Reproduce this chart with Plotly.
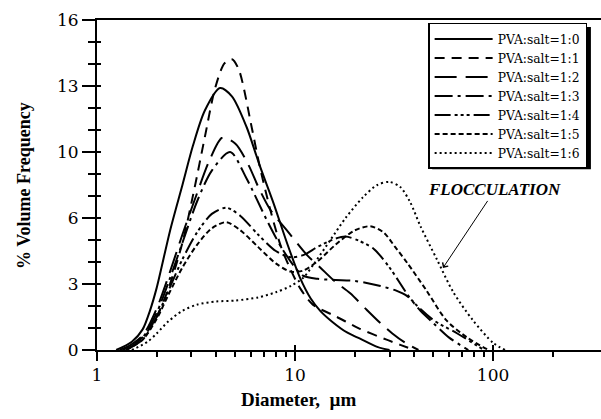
import plotly.graph_objects as go

# ---- data ----
series_names = ["PVA:salt=1:0", "PVA:salt=1:1", "PVA:salt=1:2", "PVA:salt=1:3",
                "PVA:salt=1:4", "PVA:salt=1:5", "PVA:salt=1:6"]

d_10 = [1.25, 1.5, 1.7, 1.85, 2.0, 2.34, 2.7, 3.05, 3.5, 4.18, 4.8, 5.7, 6.6, 7.8, 9.1, 10.6, 12.0, 13.4, 15.5, 18.3, 21.3, 26, 30]
v_10 = [0, 0.4, 1.0, 1.9, 3.0, 5.8, 8.0, 9.9, 11.6, 12.7, 12.3, 10.8, 9.0, 7.1, 5.2, 3.5, 2.5, 1.9, 1.35, 0.85, 0.55, 0.15, 0]

d_11 = [1.3, 1.6, 1.8, 2.0, 2.3, 2.7, 3.1, 3.5, 3.95, 4.4, 4.8, 5.2, 6.07, 6.6, 7.5, 8.5, 9.5, 10.6, 12.3, 16.3, 21, 29, 34, 40]
v_11 = [0, 0.4, 0.9, 1.6, 3.0, 5.2, 7.8, 10.3, 12.7, 13.9, 14.1, 13.6, 10.7, 9.0, 6.8, 5.0, 3.9, 3.0, 2.2, 1.6, 1.05, 0.5, 0.25, 0]

d_12 = [1.35, 1.7, 2.0, 2.3, 2.7, 3.2, 3.7, 4.3, 5.0, 5.8, 6.6, 7.5, 9.1, 11.5, 13.4, 16, 19, 23, 27, 31, 36, 42]
v_12 = [0, 0.7, 2.0, 3.6, 5.6, 7.6, 9.2, 10.3, 10.0, 9.0, 7.8, 6.8, 5.8, 4.6, 4.0, 3.3, 2.75, 1.95, 1.3, 0.8, 0.35, 0]

d_13 = [1.4, 1.7, 2.0, 2.3, 2.7, 3.2, 3.8, 4.7, 5.7, 7.2, 8.5, 10, 11, 13, 16, 20, 23, 27, 32, 37, 43, 50, 60, 75]
v_13 = [0, 0.6, 1.8, 3.3, 5.2, 7.2, 8.7, 9.6, 8.3, 6.3, 5.0, 4.0, 3.6, 3.45, 3.4, 3.35, 3.25, 3.1, 2.9, 2.6, 1.9, 1.3, 0.6, 0]

d_14 = [1.4, 1.7, 2.0, 2.3, 2.7, 3.2, 3.8, 4.5, 5.3, 6.5, 8, 9.5, 11, 13, 16, 18, 21, 25, 30, 39, 50, 66, 90]
v_14 = [0, 0.5, 1.6, 2.9, 4.4, 5.7, 6.6, 6.9, 6.5, 5.6, 4.8, 4.5, 4.6, 5.0, 5.4, 5.5, 5.3, 4.9, 4.0, 2.4, 1.45, 0.8, 0]

d_15 = [1.4, 1.7, 2.0, 2.3, 2.7, 3.2, 3.8, 4.5, 5.3, 6.5, 8, 9.5, 11, 13, 16, 20, 24, 28, 32, 37, 46, 58, 74, 95]
v_15 = [0, 0.5, 1.5, 2.7, 4.0, 5.1, 5.9, 6.2, 5.8, 5.0, 4.2, 3.8, 3.85, 4.3, 5.1, 5.8, 6.0, 5.7, 5.0, 4.2, 2.9, 1.45, 0.6, 0]

d_16 = [1.5, 1.8, 2.0, 2.3, 2.7, 3.2, 4, 5, 6.5, 8, 9.5, 11, 12.5, 15, 18, 22, 26, 30, 34, 38, 43, 52, 63, 79, 100, 115]
v_16 = [0, 0.4, 0.8, 1.4, 1.9, 2.2, 2.35, 2.4, 2.55, 2.8, 3.1, 3.5, 4.2, 5.3, 6.4, 7.4, 8.0, 8.15, 7.9, 7.2, 6.0, 4.4, 2.8, 1.45, 0.35, 0]

x_tick_vals = [1, 10, 100]
x_tick_text = ["1", "10", "100"]
x_minor_vals = [2, 3, 4, 5, 6, 7, 8, 9, 20, 30, 40, 50, 60, 70, 80, 90, 200]
y_tick_vals = [0, 3.2, 6.4, 9.6, 12.8, 16]
y_tick_text = ["0", "3", "6", "10", "13", "16"]
y_minor_vals = [1.0667, 2.1333, 4.2667, 5.3333, 7.4667, 8.5333, 10.6667, 11.7333, 13.8667, 14.9333]

xs = [d_10, d_11, d_12, d_13, d_14, d_15, d_16]
ys = [v_10, v_11, v_12, v_13, v_14, v_15, v_16]
dashes = ["solid", "10px,7px", "22px,9px", "18px,5px,3px,5px",
          "16px,4px,3px,3px,3px,3px,3px,4px", "5px,3px", "2px,3px"]

SERIF = "Liberation Serif"
WIDE = "DejaVu Serif"

fig = go.Figure()
for name, x, y, dsh in zip(series_names, xs, ys, dashes):
    fig.add_trace(go.Scatter(x=x, y=y, mode="lines", name=name,
                             line=dict(color="black", width=2, dash=dsh, shape="spline", smoothing=0.8)))

# dummy traces for overlay axes (inner halves of the crossing ticks)
fig.add_trace(go.Scatter(x=[], y=[], xaxis="x2", yaxis="y", showlegend=False))
fig.add_trace(go.Scatter(x=[], y=[], xaxis="x", yaxis="y2", showlegend=False))

fig.update_layout(
    width=601, height=419,
    margin=dict(l=97, r=0, t=20, b=69),
    paper_bgcolor="white", plot_bgcolor="white",
    font=dict(family=SERIF, color="black"),
    xaxis=dict(type="log", range=[0, 2.545], showgrid=False, zeroline=False,
               showline=True, linecolor="black", linewidth=2, mirror=True,
               tickmode="array", tickvals=x_tick_vals, ticktext=x_tick_text,
               ticks="outside", ticklen=9, tickwidth=2, tickcolor="black",
               tickfont=dict(family=WIDE, size=17),
               minor=dict(tickmode="array", tickvals=x_minor_vals, ticks="outside",
                          ticklen=5, tickwidth=2, tickcolor="black", showgrid=False)),
    xaxis2=dict(type="log", range=[0, 2.545], overlaying="x", anchor="y", side="bottom",
                showgrid=False, zeroline=False, showline=False, showticklabels=False,
                tickmode="array", tickvals=x_tick_vals, ticks="inside", ticklen=5,
                tickwidth=2, tickcolor="black"),
    yaxis=dict(range=[0, 16], showgrid=False, zeroline=False,
               showline=True, linecolor="black", linewidth=2,
               tickmode="array", tickvals=y_tick_vals, ticktext=y_tick_text,
               ticks="outside", ticklen=13, tickwidth=2, tickcolor="black",
               tickfont=dict(family=WIDE, size=17),
               minor=dict(tickmode="array", tickvals=y_minor_vals, ticks="outside",
                          ticklen=7, tickwidth=2, tickcolor="black", showgrid=False)),
    yaxis2=dict(range=[0, 16], overlaying="y", anchor="x", side="left",
                showgrid=False, zeroline=False, showline=False, showticklabels=False,
                tickmode="array", tickvals=y_tick_vals + y_minor_vals, ticks="inside",
                ticklen=4, tickwidth=2, tickcolor="black"),
    legend=dict(x=0.657, y=0.991, xanchor="left", yanchor="top",
                bgcolor="white", bordercolor="black", borderwidth=1.5,
                font=dict(family=WIDE, size=12.3), itemwidth=58,
                tracegroupgap=0),
    showlegend=True,
)

# legend drop shadow
fig.add_shape(type="rect", xref="paper", yref="paper",
              x0=0.665, x1=0.980, y0=0.548, y1=0.979,
              fillcolor="black", line=dict(width=0), layer="above")

# axis titles
fig.add_annotation(text="<b>Diameter,  µm</b>", xref="paper", yref="paper",
                   x=0.40, y=-0.15, xanchor="center", yanchor="middle", showarrow=False,
                   font=dict(family=SERIF, size=19))
fig.add_annotation(text="<b>% Volume Frequency</b>", xref="paper", yref="paper",
                   x=-0.145, y=0.5, xanchor="center", yanchor="middle", showarrow=False,
                   textangle=-90, font=dict(family=SERIF, size=18))

# FLOCCULATION arrow
fig.add_annotation(text="<b><i>FLOCCULATION</i></b>", x=1.747, y=3.98, xref="x", yref="y",
                   showarrow=True, ax=52, ay=-78, arrowhead=4, arrowsize=1.3, arrowwidth=1,
                   arrowcolor="black", font=dict(family=SERIF, size=17))

fig.write_html("out.html")
